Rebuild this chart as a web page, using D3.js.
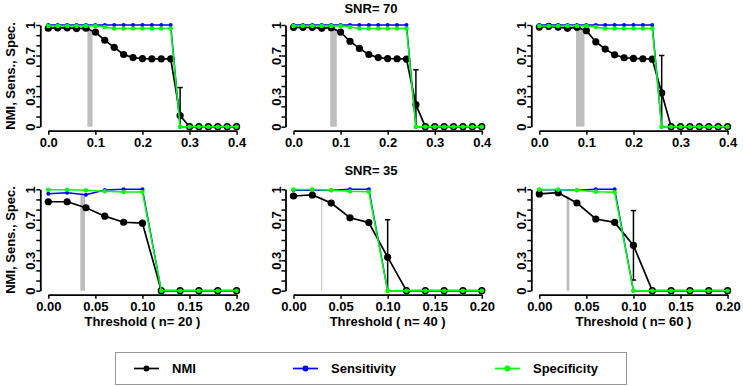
<!DOCTYPE html>
<html>
<head>
<meta charset="utf-8">
<script src="https://cdn.jsdelivr.net/npm/d3@7"></script>
<style>
  body { margin: 0; background: #fff; }
  svg text { font-family: "Liberation Sans", Arial, sans-serif; font-weight: bold; }
</style>
</head>
<body>
<div id="chart"></div>
<script>
// thresholds
const xTop = [0, 0.02, 0.04, 0.06, 0.08, 0.10, 0.12, 0.14, 0.16, 0.18, 0.20,
              0.22, 0.24, 0.26, 0.28, 0.30, 0.32, 0.34, 0.36, 0.38, 0.40];
const xBottom = [0, 0.02, 0.04, 0.06, 0.08, 0.10, 0.12, 0.14, 0.16, 0.18, 0.20];

const xTicksTop = [0, 0.1, 0.2, 0.3, 0.4];
const xTicksBottom = [0, 0.05, 0.10, 0.15, 0.20];
const yTicks = [0, 0.1, 0.2, 0.3, 0.4, 0.5, 0.6, 0.7, 0.8, 0.9, 1];
const yLabelled = [0, 0.3, 0.7, 1];

const rowTitles = ["SNR= 70", "SNR= 35"];
const colLabels = ["Threshold ( n= 20 )", "Threshold ( n= 40 )", "Threshold ( n= 60 )"];

// SNR = 70
const nmi70_20 = [0.968, 0.972, 0.972, 0.965, 0.968, 0.93, 0.85, 0.78, 0.71, 0.68, 0.67, 0.667, 0.667, 0.667, 0.11, 0, 0, 0, 0, 0, 0];
const sens70_20 = [1, 1, 1, 1, 1, 1, 1, 1, 1, 1, 1, 1, 1, 1, 0, 0, 0, 0, 0, 0, 0];
const spec70_20 = [0.99, 0.99, 0.99, 0.99, 0.99, 0.99, 0.98, 0.965, 0.965, 0.965, 0.965, 0.965, 0.965, 0.965, 0, 0, 0, 0, 0, 0, 0];

const nmi70_40 = [0.977, 0.977, 0.977, 0.967, 0.974, 0.93, 0.84, 0.77, 0.71, 0.68, 0.67, 0.668, 0.665, 0.217, 0, 0, 0, 0, 0, 0, 0];
const sens70_40 = [1, 1, 1, 1, 1, 1, 1, 1, 1, 1, 1, 1, 1, 0, 0, 0, 0, 0, 0, 0, 0];
const spec70_40 = [0.99, 0.99, 0.99, 0.99, 0.99, 0.99, 0.98, 0.965, 0.965, 0.965, 0.965, 0.965, 0.965, 0, 0, 0, 0, 0, 0, 0, 0];

const nmi70_60 = [0.98, 0.987, 0.98, 0.967, 0.977, 0.944, 0.835, 0.763, 0.707, 0.678, 0.671, 0.668, 0.664, 0.332, 0, 0, 0, 0, 0, 0, 0];
const sens70_60 = [1, 1, 1, 1, 1, 1, 1, 1, 1, 1, 1, 1, 1, 0, 0, 0, 0, 0, 0, 0, 0];
const spec70_60 = [0.99, 0.99, 0.99, 0.99, 0.99, 0.99, 0.98, 0.965, 0.965, 0.965, 0.965, 0.965, 0.965, 0, 0, 0, 0, 0, 0, 0, 0];

// SNR = 35
const nmi35_20 = [0.877, 0.877, 0.818, 0.735, 0.675, 0.666, 0, 0, 0, 0, 0];
const sens35_20 = [0.957, 0.967, 0.947, 0.993, 1, 1, 0, 0, 0, 0, 0];
const spec35_20 = [0.995, 0.995, 0.99, 0.98, 0.973, 0.973, 0, 0, 0, 0, 0];

const nmi35_40 = [0.934, 0.944, 0.864, 0.719, 0.672, 0.331, 0, 0, 0, 0, 0];
const sens35_40 = [0.99, 0.99, 0.99, 1, 1, 0, 0, 0, 0, 0, 0];
const spec35_40 = [0.997, 0.997, 0.99, 0.98, 0.975, 0, 0, 0, 0, 0, 0];

const nmi35_60 = [0.954, 0.967, 0.865, 0.707, 0.674, 0.447, 0, 0, 0, 0, 0];
const sens35_60 = [0.995, 0.995, 0.99, 1, 1, 0, 0, 0, 0, 0, 0];
const spec35_60 = [0.997, 0.997, 0.99, 0.977, 0.97, 0, 0, 0, 0, 0, 0];

// NMI error bars [x, low, mean, high]
const err70_20 = [0.28, 0, 0.11, 0.385];
const err70_40 = [0.26, 0, 0.217, 0.56];
const err70_60 = [0.26, 0, 0.332, 0.70];
const err35_40 = [0.10, 0, 0.331, 0.70];
const err35_60 = [0.10, 0.105, 0.447, 0.79];

// grey band of selected threshold [from, to, top]
const band70_20 = [0.083, 0.094, 0.95];
const band70_40 = [0.078, 0.092, 0.95];
const band70_60 = [0.078, 0.096, 0.95];
const band35_20 = [0.034, 0.039, 0.95];
const band35_40 = [0.0295, 0.0305, 0.93];
const band35_60 = [0.029, 0.032, 0.93];

const panels = [
  { row: 0, col: 0, x: xTop, nmi: nmi70_20, sens: sens70_20, spec: spec70_20, err: err70_20, band: band70_20 },
  { row: 0, col: 1, x: xTop, nmi: nmi70_40, sens: sens70_40, spec: spec70_40, err: err70_40, band: band70_40 },
  { row: 0, col: 2, x: xTop, nmi: nmi70_60, sens: sens70_60, spec: spec70_60, err: err70_60, band: band70_60 },
  { row: 1, col: 0, x: xBottom, nmi: nmi35_20, sens: sens35_20, spec: spec35_20, err: null, band: band35_20 },
  { row: 1, col: 1, x: xBottom, nmi: nmi35_40, sens: sens35_40, spec: spec35_40, err: err35_40, band: band35_40 },
  { row: 1, col: 2, x: xBottom, nmi: nmi35_60, sens: sens35_60, spec: spec35_60, err: err35_60, band: band35_60 }
];

const W = 743, H = 386;
const colLeft = [48.3, 293.5, 539.3];
const plotW = 188.3;
const rowY0 = [126.7, 290.7];   // pixel of y = 0
const rowY1 = [25, 189.3];      // pixel of y = 1

const svg = d3.select("#chart").append("svg")
  .attr("width", W).attr("height", H);

const cBlack = "#000", cBlue = "#0000ff", cGreen = "#00ff00", cGrey = "#bebebe";

panels.forEach(p => {
  const top = p.row === 0;
  const xMax = top ? 0.4 : 0.2;
  const x = d3.scaleLinear().domain([0, xMax]).range([colLeft[p.col], colLeft[p.col] + plotW]);
  const y = d3.scaleLinear().domain([0, 1]).range([rowY0[p.row], rowY1[p.row]]);
  const g = svg.append("g");

  // grey band
  g.append("rect")
    .attr("x", x(p.band[0]))
    .attr("y", y(p.band[2]))
    .attr("width", x(p.band[1]) - x(p.band[0]))
    .attr("height", y(0) - y(p.band[2]))
    .attr("fill", cGrey);

  // axes
  const fmtX = top ? d3.format(".1f") : d3.format(".2f");
  const ax = g.append("g")
    .attr("transform", `translate(0,${y(0) + 4})`)
    .call(d3.axisBottom(x).tickValues(top ? xTicksTop : xTicksBottom)
      .tickFormat(fmtX).tickSize(4).tickSizeOuter(0).tickPadding(3));
  ax.selectAll("text").style("font-size", "13px").attr("fill", "#000");

  const ay = g.append("g")
    .attr("transform", `translate(${x(0) - 8},0)`)
    .call(d3.axisLeft(y).tickValues(yTicks)
      .tickFormat(d => yLabelled.some(v => Math.abs(v - d) < 1e-9) ? d3.format("~g")(d) : "")
      .tickSize(4).tickSizeOuter(0));
  ay.selectAll("text")
    .attr("x", null).attr("dy", null)
    .attr("transform", "translate(-5,0) rotate(-90)")
    .attr("text-anchor", "middle")
    .attr("fill", "#000")
    .style("font-size", "13px");
  [ax, ay].forEach(a => {
    a.select(".domain").attr("stroke-width", 1.8);
    a.selectAll(".tick line").attr("stroke-width", 1.5);
  });

  const pts = (vals) => p.x.map((xv, i) => [xv, vals[i]]);
  const line = d3.line().x(d => x(d[0])).y(d => y(d[1]));

  // NMI
  g.append("path").attr("d", line(pts(p.nmi)))
    .attr("fill", "none").attr("stroke", cBlack).attr("stroke-width", 1.7);
  g.selectAll(".nmi").data(pts(p.nmi)).enter().append("circle")
    .attr("cx", d => x(d[0])).attr("cy", d => y(d[1])).attr("r", 3.6).attr("fill", cBlack);

  // error bar
  if (p.err) {
    const [ex, lo, , hi] = p.err;
    g.append("line")
      .attr("x1", x(ex)).attr("x2", x(ex)).attr("y1", y(lo)).attr("y2", y(hi))
      .attr("stroke", cBlack).attr("stroke-width", 1.5);
    const caps = lo > 0 ? [lo, hi] : [hi];
    caps.forEach(v => g.append("line")
      .attr("x1", x(ex) - 2.7).attr("x2", x(ex) + 2.7).attr("y1", y(v)).attr("y2", y(v))
      .attr("stroke", cBlack).attr("stroke-width", 1.5));
  }

  // sensitivity
  g.append("path").attr("d", line(pts(p.sens)))
    .attr("fill", "none").attr("stroke", cBlue).attr("stroke-width", 1.5);
  g.selectAll(".sens").data(pts(p.sens)).enter().append("circle")
    .attr("cx", d => x(d[0])).attr("cy", d => y(d[1])).attr("r", 2).attr("fill", cBlue);

  // specificity
  g.append("path").attr("d", line(pts(p.spec)))
    .attr("fill", "none").attr("stroke", cGreen).attr("stroke-width", 1.5);
  g.selectAll(".spec").data(pts(p.spec)).enter().append("circle")
    .attr("cx", d => x(d[0])).attr("cy", d => y(d[1])).attr("r", 2.3).attr("fill", cGreen);

  // x label on bottom row
  if (!top) {
    g.append("text")
      .attr("x", colLeft[p.col] + plotW / 2).attr("y", 325.5)
      .attr("text-anchor", "middle").style("font-size", "13px")
      .text(colLabels[p.col]);
  }
  // y label on left column
  if (p.col === 0) {
    g.append("text")
      .attr("transform", `translate(15,${(y(0) + y(1)) / 2}) rotate(-90)`)
      .attr("text-anchor", "middle").style("font-size", "13px")
      .text("NMI, Sens., Spec.");
  }
});

// row titles
rowTitles.forEach((t, i) => {
  svg.append("text")
    .attr("x", 371).attr("y", i === 0 ? 13 : 175)
    .attr("text-anchor", "middle").style("font-size", "13px")
    .text(t);
});

// legend
const legendItems = [
  { name: "NMI", color: cBlack, lx: 134 },
  { name: "Sensitivity", color: cBlue, lx: 293 },
  { name: "Specificity", color: cGreen, lx: 495 }
];
svg.append("rect")
  .attr("x", 115.5).attr("y", 352.5).attr("width", 511).attr("height", 32)
  .attr("fill", "#fff").attr("stroke", "#999").attr("stroke-width", 1);
legendItems.forEach(it => {
  svg.append("line")
    .attr("x1", it.lx).attr("x2", it.lx + 25).attr("y1", 368.5).attr("y2", 368.5)
    .attr("stroke", it.color).attr("stroke-width", 1.7);
  svg.append("circle")
    .attr("cx", it.lx + 12.5).attr("cy", 368.5).attr("r", 3).attr("fill", it.color);
  svg.append("text")
    .attr("x", it.lx + 38).attr("y", 373)
    .style("font-size", "13px")
    .text(it.name);
});
</script>
</body>
</html>
